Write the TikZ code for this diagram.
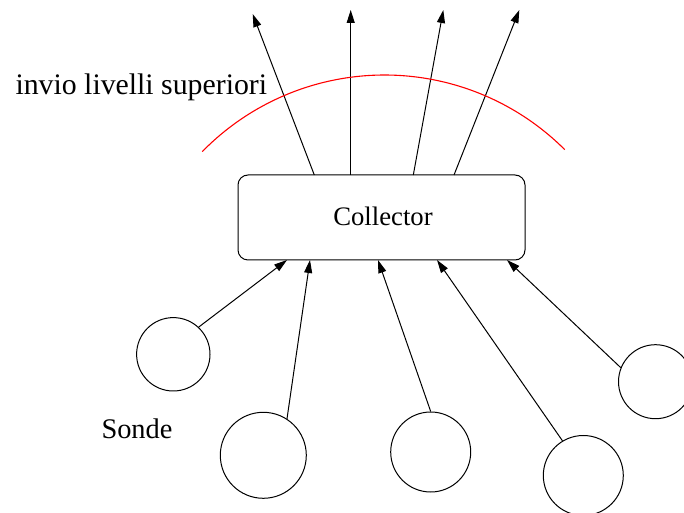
\documentclass[tikz,border=0pt]{standalone}
\usepackage{fontspec}
\IfFontExistsTF{LiberationSerif-Regular.ttf}
  {\newfontfamily\labelfont{LiberationSerif-Regular.ttf}}
  {\newfontfamily\labelfont{Liberation Serif}}
\usetikzlibrary{arrows.meta}
\begin{document}
\begin{tikzpicture}[x=1pt,y=1pt,
  line width=1pt,
  arr/.style={-{Triangle[length=13pt,width=8pt]}},
  probe/.style={circle,draw,inner sep=0pt},
  collbox/.style={draw,rounded corners=10pt,minimum width=287pt,minimum height=85pt,inner sep=0pt}]
\useasboundingbox (0,0) rectangle (684,513);

% collector box
\node[collbox] (box) at (381.5,295.5) {};
\node[anchor=base,font=\labelfont\fontsize{26.7}{30}\selectfont] (coll) at (383,287) {Collector};

% probes
\node[probe,minimum size=73.4pt] (c1) at (173.3,158.7) {};
\node[probe,minimum size=86pt]   (c2) at (263.3,57.7) {};
\node[probe,minimum size=80pt]   (c3) at (430.7,61) {};
\node[probe,minimum size=80pt]   (c4) at (583.3,37.5) {};
\node[probe,minimum size=74pt]   (c5) at (655.5,131.3) {};

% entry points on the lower edge of the box
\coordinate (b1) at (287,253);
\coordinate (b2) at (310,253);
\coordinate (b3) at (378,253);
\coordinate (b4) at (437,253);
\coordinate (b5) at (507,253);

\draw[arr] (c1.47.8)  -- (b1);
\draw[arr] (c2.57.7)  -- (b2);
\draw[arr] (c3.90)    -- (b3);
\draw[arr] (c4.121.2) -- (b4);
\draw[arr] (c5.158.5) -- (b5);

% outgoing arrows on the upper edge
\coordinate (o1) at (314.3,338);
\coordinate (o2) at (350.7,338);
\coordinate (o3) at (413.3,338);
\coordinate (o4) at (454,338);
\coordinate (u1) at (252.7,499);
\coordinate (u2) at (350.7,503);
\coordinate (u3) at (443.3,503);
\coordinate (u4) at (519.3,503);

\draw[arr] (o1) -- (u1);
\draw[arr] (o2) -- (u2);
\draw[arr] (o3) -- (u3);
\draw[arr] (o4) -- (u4);

% boundary towards the upper levels
\coordinate (arcstart) at (202.3,361.4);
\draw[red,line width=1.1pt] (arcstart) arc[start angle=135.6,end angle=45,radius=255pt];

% labels
\node[anchor=base west,inner sep=0pt,font=\labelfont\fontsize{29.8}{34}\selectfont] (lvl) at (15,418.7) {invio livelli superiori};
\node[anchor=base west,inner sep=0pt,font=\labelfont\fontsize{28.4}{32}\selectfont] (sonde) at (101,74) {Sonde};
\end{tikzpicture}
\end{document}
